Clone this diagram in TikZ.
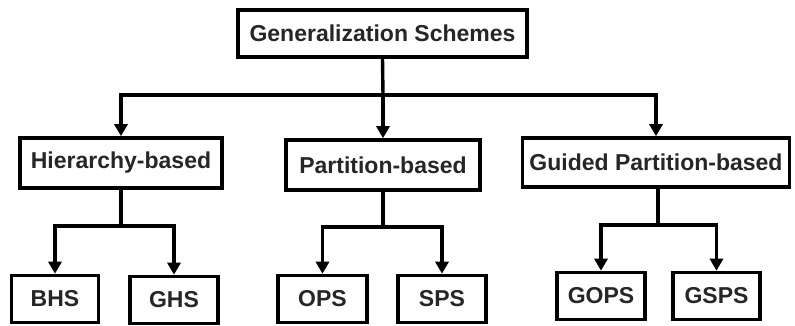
\documentclass[tikz,border=0pt]{standalone}
\usepackage{fontspec}
\setmainfont{Liberation Sans}
\usetikzlibrary{arrows.meta}
\begin{document}
\begin{tikzpicture}[x=1pt,y=-1pt,
  box/.style={draw=black, line width=3.6pt, fill=white, inner sep=0pt,
    font=\fontsize{23}{27}\selectfont\bfseries, text=black!85, align=center},
  conn/.style={line width=3.4pt, line cap=rect},
  arr/.style={line width=3.4pt, -{Triangle[width=13pt,length=12pt]}}]
\useasboundingbox (0,0) rectangle (795,325);
\fill[white] (0,0) rectangle (795,325);
% nodes
\node[box, minimum width=289pt, minimum height=47pt] (top) at (382.5,33.5) {Generalization Schemes};
\node[box, minimum width=202pt, minimum height=50pt] (hier) at (121,163) {Hierarchy-based};
\node[box, minimum width=194pt, minimum height=50pt] (part) at (383,165) {Partition-based};
\node[box, minimum width=267pt, minimum height=49pt] (guid) at (656,162.5) {Guided Partition-based};
\node[box, minimum width=87pt, minimum height=47pt] (bhs) at (55,299) {BHS};
\node[box, minimum width=88pt, minimum height=47pt] (ghs) at (174,300) {GHS};
\node[box, minimum width=89pt, minimum height=47pt] (ops) at (322.5,299) {OPS};
\node[box, minimum width=88pt, minimum height=47pt] (sps) at (442,299) {SPS};
\node[box, minimum width=88pt, minimum height=47pt] (gops) at (601,296) {GOPS};
\node[box, minimum width=87pt, minimum height=47pt] (gsps) at (716.5,296) {GSPS};
% bus coordinates
\coordinate (bus) at (383,95);
\coordinate (hb) at (121,226);
\coordinate (pb) at (383,227);
\coordinate (gb) at (658,225);
% top level connectors
\draw[conn] (top.south) -- (bus);
\draw[arr] (bus) -| (hier.north);
\draw[arr] (bus) -- (part.north);
\draw[arr] (bus) -| (guid.north);
% hierarchy
\draw[conn] (hier.south) -- (hb);
\draw[arr] (hb) -| (bhs.north);
\draw[arr] (hb) -| (ghs.north);
% partition
\draw[conn] (part.south) -- (pb);
\draw[arr] (pb) -| (ops.north);
\draw[arr] (pb) -| (sps.north);
% guided
\draw[conn] (guid.south -| gb) -- (gb);
\draw[arr] (gb) -| (gops.north);
\draw[arr] (gb) -| (gsps.north);
\end{tikzpicture}
\end{document}
